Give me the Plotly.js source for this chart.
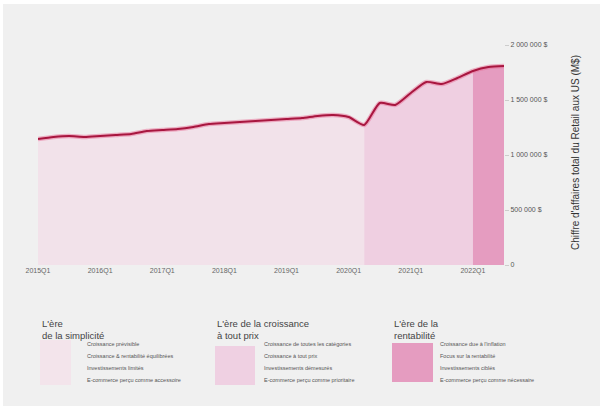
<!DOCTYPE html>
<html>
<head>
<meta charset="utf-8">
<script src="https://cdn.plot.ly/plotly-3.0.1.min.js"></script>
<style>
  html, body { margin: 0; padding: 0; background: #ffffff; }
  #chart { position: absolute; left: 3px; top: 4px; width: 597px; height: 402px; }
</style>
</head>
<body>
<div id="chart"></div>
<script>
// ---- data ----
const quarterIndex = [0,1,2,3,4,5,6,7,8,9,10,11,12,13,14,15,16,17,18,19,20,21,22,23,24,25,26,27,28,29,30];
const retailSales = [1145000,1164000,1173000,1164000,1173000,1182000,1191000,1218000,1227000,1236000,
                     1255000,1282000,1291000,1300000,1309000,1318000,1327000,1336000,1355000,1364000,
                     1345000,1273000,1473000,1455000,1564000,1664000,1645000,1700000,1764000,1800000,1809000];
const eraStart = [0, 21, 28];
const eraEnd = [21, 28, 30];
const eraTitles = ["L'ère<br>de la simplicité", "L'ère de la croissance<br>à tout prix", "L'ère de la<br>rentabilité"];
const eraItems = [
  ["Croissance prévisible", "Croissance & rentabilité équilibrées", "Investissements limités", "E-commerce perçu comme accessoire"],
  ["Croissance de toutes les catégories", "Croissance à tout prix", "Investissements démesurés", "E-commerce perçu comme prioritaire"],
  ["Croissance due à l'inflation", "Focus sur la rentabilité", "Investissements ciblés", "E-commerce perçu comme nécessaire"]
];
const xTickVals = [0,4,8,12,16,20,24,28];
const xTickText = ["2015Q1","2016Q1","2017Q1","2018Q1","2019Q1","2020Q1","2021Q1","2022Q1"];
const yTickVals = [0,500000,1000000,1500000,2000000];
const yTickText = ["0","500 000 $","1 000 000 $","1 500 000 $","2 000 000 $"];
const yTitle = "Chiffre d'affaires total du Retail aux US (M$)";

// ---- styles ----
const eraColors = ["#f2e2ea", "#efcfe1", "#e59cc0"];
const boxColors = ["#f3e4eb", "#efd0e2", "#e59cc0"];
const FONT = "Liberation Sans, Arial, Helvetica, sans-serif";

// page pixel -> paper helpers (plot area: x 38..504, y 45..265 in page px)
const PX0 = 38, PW = 466, PY0 = 265, PH = 220;
const px = x => (x - PX0) / PW;
const py = y => (PY0 - y) / PH;

const traces = [];
for (let k = 0; k < 3; k++) {
  const xs = quarterIndex.slice(eraStart[k], eraEnd[k] + 1);
  const ys = retailSales.slice(eraStart[k], eraEnd[k] + 1);
  traces.push({
    x: xs, y: ys, type: 'scatter', mode: 'lines',
    fill: 'tozeroy', fillcolor: eraColors[k],
    line: {width: 0, shape: 'spline', smoothing: 0.6, color: eraColors[k]},
    hoverinfo: 'skip', showlegend: false
  });
}
traces.push({
  x: quarterIndex, y: retailSales, type: 'scatter', mode: 'lines',
  line: {color: 'rgba(232,110,150,0.5)', width: 4.5, shape: 'spline', smoothing: 0.6},
  hoverinfo: 'skip', showlegend: false
});
traces.push({
  x: quarterIndex, y: retailSales, type: 'scatter', mode: 'lines',
  line: {color: '#a8163f', width: 2, shape: 'spline', smoothing: 0.6},
  showlegend: false
});

const annotations = [];
const shapes = [];
const groupX = [40, 215, 392];
const boxX = [[40, 71], [215, 255], [392, 433]];
const boxY = [[340, 385], [346, 385], [343, 382]];
const itemX = [85, 262, 438];
const itemY = [344, 356, 368, 380];

for (let k = 0; k < 3; k++) {
  annotations.push({
    xref: 'paper', yref: 'paper', x: px(groupX[k]), y: py(316),
    xanchor: 'left', yanchor: 'top', align: 'left', showarrow: false,
    text: eraTitles[k], font: {family: FONT, size: 9.5, color: '#444'}
  });
  shapes.push({
    type: 'rect', xref: 'paper', yref: 'paper',
    x0: px(boxX[k][0]), x1: px(boxX[k][1]), y0: py(boxY[k][1]), y1: py(boxY[k][0]),
    fillcolor: boxColors[k], line: {width: 0}, layer: 'below'
  });
  for (let j = 0; j < eraItems[k].length; j++) {
    annotations.push({
      xref: 'paper', yref: 'paper', x: px(itemX[k]), y: py(itemY[j]),
      xanchor: 'left', yanchor: 'middle', showarrow: false,
      text: eraItems[k][j], font: {family: FONT, size: 5.5, color: '#555'}
    });
  }
}
annotations.push({
  xref: 'paper', yref: 'paper', x: px(575), y: py(153),
  xanchor: 'center', yanchor: 'middle', showarrow: false, textangle: -90,
  text: yTitle, font: {family: FONT, size: 10, color: '#333'}
});

const layout = {
  width: 597, height: 402,
  margin: {l: 35, r: 96, t: 41, b: 141},
  paper_bgcolor: '#f0f0f0', plot_bgcolor: '#f0f0f0',
  font: {family: FONT, color: '#555'},
  showlegend: false,
  xaxis: {
    range: [0, 30], tickvals: xTickVals, ticktext: xTickText,
    showgrid: false, zeroline: false, showline: false, ticks: '',
    tickfont: {family: FONT, size: 7, color: '#666'}, fixedrange: true
  },
  yaxis: {
    side: 'right', range: [0, 2000000], tickvals: yTickVals, ticktext: yTickText,
    showgrid: false, zeroline: false, showline: false,
    ticks: 'outside', ticklen: 4, tickcolor: '#cccccc',
    tickfont: {family: FONT, size: 7, color: '#555'}, fixedrange: true
  },
  annotations: annotations,
  shapes: shapes
};

Plotly.newPlot('chart', traces, layout, {displayModeBar: false, staticPlot: true});
</script>
</body>
</html>
